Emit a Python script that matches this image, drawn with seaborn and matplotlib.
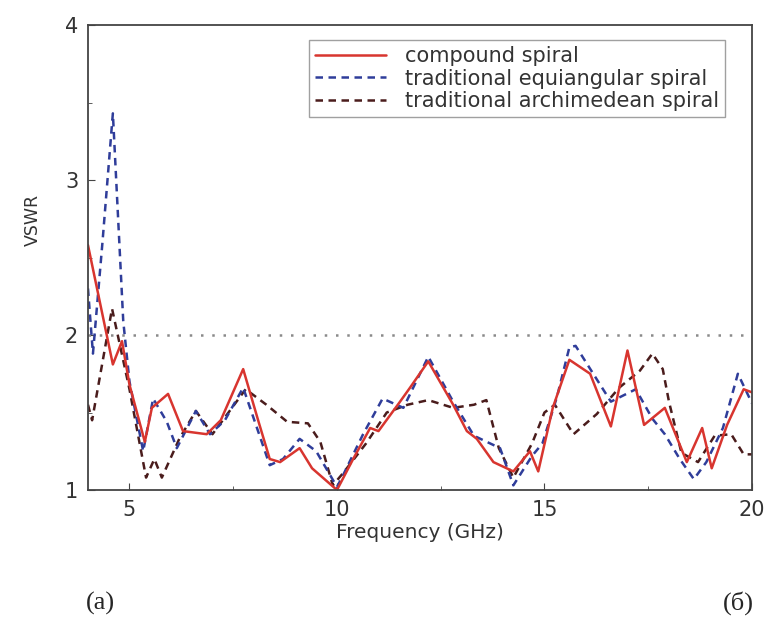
import matplotlib
matplotlib.use("Agg")
import matplotlib.pyplot as plt
import seaborn as sns
import pandas as pd
from matplotlib.ticker import MultipleLocator

# ---- data ----
freq_compound = [4.0, 4.6, 4.82, 5.0, 5.37, 5.54, 5.93, 6.29, 6.86, 7.2, 7.74, 8.1, 8.38, 8.63,
                 9.1, 9.4, 10.0, 10.39, 10.8, 11.0, 11.52, 11.76, 12.2, 12.8, 13.13, 13.37,
                 13.77, 14.25, 14.65, 14.85, 15.2, 15.6, 16.1, 16.6, 17.0, 17.4, 17.9, 18.43,
                 18.8, 19.03, 19.4, 19.8, 20.0]
vswr_compound = [2.58, 1.81, 1.96, 1.68, 1.31, 1.53, 1.62, 1.38, 1.36, 1.45, 1.78, 1.45, 1.20, 1.18,
                 1.27, 1.14, 1.00, 1.20, 1.40, 1.38, 1.57, 1.66, 1.83, 1.55, 1.38, 1.33,
                 1.18, 1.12, 1.25, 1.12, 1.53, 1.84, 1.75, 1.41, 1.90, 1.42, 1.53, 1.18,
                 1.40, 1.14, 1.42, 1.65, 1.63]

freq_equi = [4.0, 4.12, 4.35, 4.6, 4.85, 5.0, 5.33, 5.57, 5.9, 6.14, 6.6, 6.94, 7.3, 7.74, 8.38,
             8.7, 9.1, 9.5, 10.0, 10.1, 10.63, 11.1, 11.6, 12.2, 12.8, 13.3, 13.93, 14.25, 14.7,
             14.95, 15.3, 15.6, 15.75, 16.6, 17.2, 17.6, 17.9, 18.26, 18.6, 18.9, 19.3, 19.66, 20.0]
vswr_equi = [2.30, 1.88, 2.60, 3.43, 2.09, 1.70, 1.25, 1.59, 1.44, 1.27, 1.51, 1.36, 1.45, 1.66, 1.16,
             1.20, 1.33, 1.25, 1.02, 1.07, 1.36, 1.59, 1.53, 1.86, 1.57, 1.35, 1.27, 1.03, 1.22,
             1.30, 1.60, 1.92, 1.93, 1.57, 1.65, 1.46, 1.36, 1.20, 1.07, 1.18, 1.40, 1.75, 1.56]

freq_arch = [4.0, 4.1, 4.58, 5.0, 5.4, 5.6, 5.78, 6.2, 6.6, 7.0, 7.8, 8.3, 8.8, 9.3, 9.6, 9.9,
             10.15, 10.7, 11.2, 11.7, 12.2, 12.8, 13.3, 13.6, 13.9, 14.25, 14.7, 15.0, 15.25,
             15.7, 16.26, 16.8, 17.3, 17.6, 17.85, 18.0, 18.3, 18.7, 19.1, 19.5, 19.8, 20.0]
vswr_arch = [1.55, 1.45, 2.17, 1.65, 1.08, 1.20, 1.08, 1.33, 1.51, 1.36, 1.65, 1.55, 1.44, 1.43, 1.31, 1.03,
             1.11, 1.30, 1.50, 1.55, 1.58, 1.53, 1.55, 1.58, 1.27, 1.08, 1.30, 1.50, 1.55,
             1.36, 1.49, 1.66, 1.77, 1.88, 1.78, 1.57, 1.24, 1.18, 1.35, 1.36, 1.23, 1.23]

ref_freq = [4.0, 20.0]
ref_vswr = [2.0, 2.0]

labels = ["compound spiral", "traditional equiangular spiral", "traditional archimedean spiral"]
x_ticks = [5, 10, 15, 20]
y_ticks = [1, 2, 3, 4]

# ---- plot ----
sns.set_style("ticks")
plt.rcParams['font.family'] = ['DejaVu Sans']

fig = plt.figure(figsize=(7.73, 6.25), dpi=100)
ax = fig.add_axes([0.1138, 0.216, 0.8590, 0.744])

df_c = pd.DataFrame({"f": freq_compound, "v": vswr_compound})
df_e = pd.DataFrame({"f": freq_equi, "v": vswr_equi})
df_a = pd.DataFrame({"f": freq_arch, "v": vswr_arch})
df_r = pd.DataFrame({"f": ref_freq, "v": ref_vswr})

sns.lineplot(data=df_r, x="f", y="v", ax=ax, color="#8a8a8a", lw=1.8,
             linestyle=(0, (1, 3.5)), sort=False, legend=False)
sns.lineplot(data=df_a, x="f", y="v", ax=ax, color="#4a1c1c", lw=1.8,
             linestyle=(0, (3, 2.2)), sort=False, label=labels[2])
sns.lineplot(data=df_e, x="f", y="v", ax=ax, color="#2f3d9a", lw=1.8,
             linestyle=(0, (3, 2.2)), sort=False, label=labels[1])
sns.lineplot(data=df_c, x="f", y="v", ax=ax, color="#d8352f", lw=1.8,
             sort=False, label=labels[0])

ax.set_xlim(4, 20)
ax.set_ylim(1, 4)
ax.set_xticks(x_ticks)
ax.set_yticks(y_ticks)
ax.xaxis.set_minor_locator(MultipleLocator(2.5))
ax.yaxis.set_minor_locator(MultipleLocator(0.5))
ax.tick_params(which="both", direction="in", color="#444444")
ax.tick_params(which="major", length=5, labelsize=15, labelcolor="#333333", pad=7)
ax.tick_params(which="minor", length=3)
for s in ax.spines.values():
    s.set_color("#444444")
    s.set_linewidth(1.3)

ax.set_xlabel("Frequency (GHz)", fontsize=14.5, color="#333333", labelpad=2)
ax.set_ylabel("VSWR", fontsize=12.5, color="#333333")
ax.yaxis.set_label_coords(-0.07, 0.58)

handles, lbls = ax.get_legend_handles_labels()
order = [lbls.index(l) for l in labels]
leg = ax.legend([handles[i] for i in order], [lbls[i] for i in order],
                loc="upper right", bbox_to_anchor=(0.96, 0.968), fontsize=15,
                frameon=True, fancybox=False, edgecolor="#888888",
                handlelength=3.4, borderpad=0.3, labelspacing=0.12, handletextpad=0.9,
                borderaxespad=0.0)
leg.get_frame().set_linewidth(1.0)
for t in leg.get_texts():
    t.set_color("#333333")

fig.text(0.13, 0.035, "(a)", fontsize=19, va="center", ha="center",
         family=["Liberation Serif", "DejaVu Serif"])
fig.text(0.955, 0.035, "(б)", fontsize=19, va="center", ha="center",
         family=["Liberation Serif", "DejaVu Serif"])

fig.savefig("out.png", dpi=100)
